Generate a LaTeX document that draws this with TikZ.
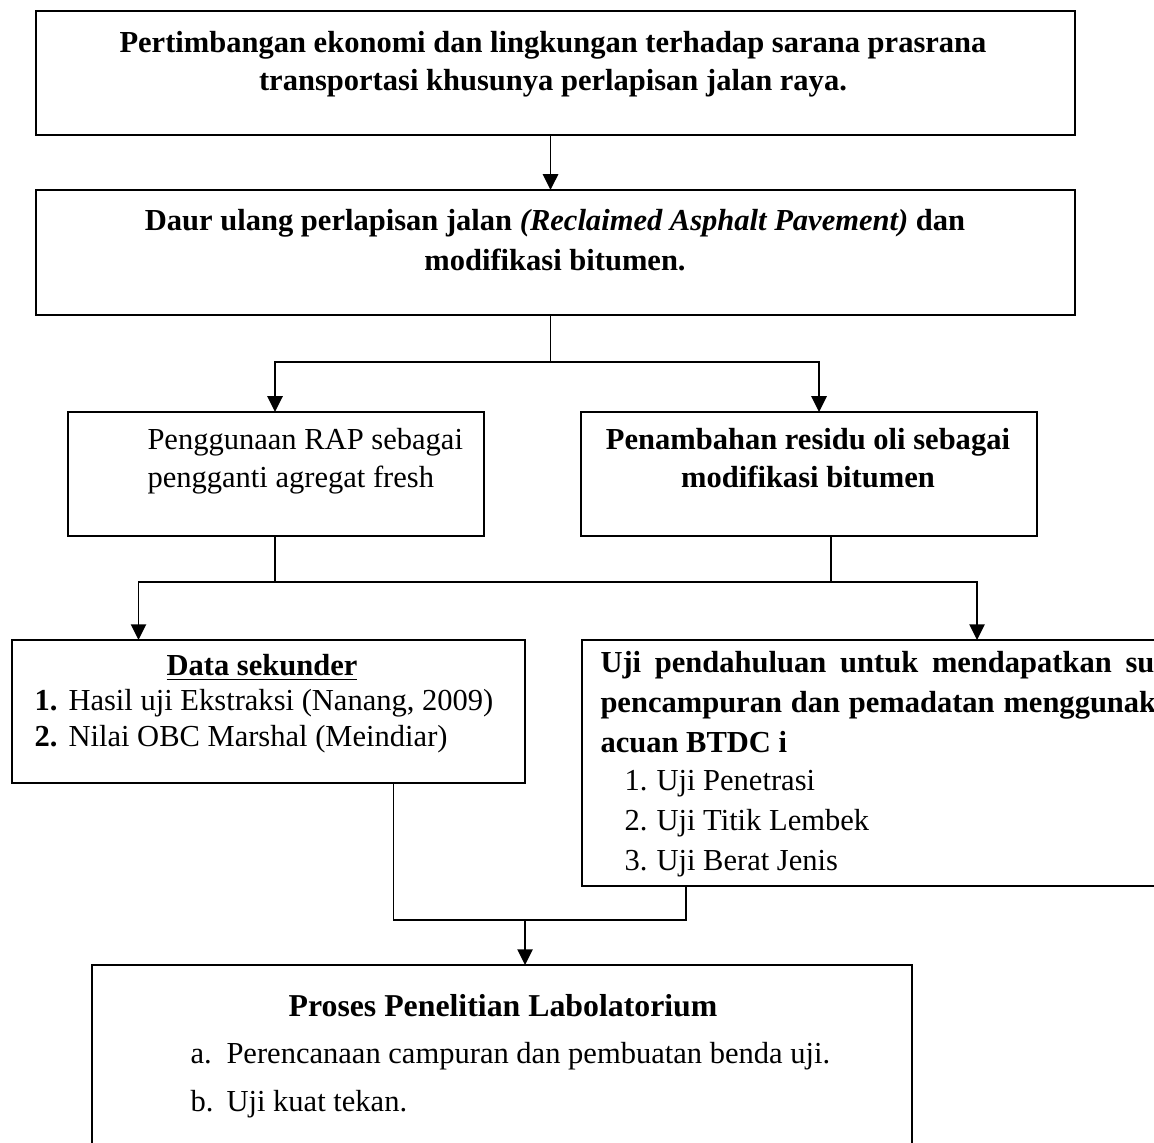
\documentclass[tikz,border=0pt]{standalone}
\usepackage{fontspec}
\setmainfont{Liberation Serif}
\usetikzlibrary{arrows.meta,calc}

\newlength\pu
\setlength\pu{0.393pt}

\tikzset{
  box/.style={draw, line width=0.8pt, anchor=north west, inner sep=0pt, outer sep=0pt},
  conn/.style={line width=0.7pt},
  arr/.style={conn, -{Triangle[length=6.2pt,width=6pt]}},
  txt/.style={inner sep=0pt, anchor=north, align=center, font=\fontsize{12}{14.9}\selectfont},
  lst/.style={inner sep=0pt, anchor=north west, align=left},
}

\begin{document}
\begin{tikzpicture}[x=\pu, y=-\pu]
\useasboundingbox (0,0) rectangle (1154,1142);
\clip (0,0) rectangle (1154,1142);

% kotak
\node[box, minimum width=1039*\pu, minimum height=124*\pu] (eko) at (36,11) {};
\node[box, minimum width=1039*\pu, minimum height=125*\pu] (daur) at (36,190) {};
\node[box, minimum width=416*\pu, minimum height=124*\pu] (rap) at (68,412) {};
\node[box, minimum width=456*\pu, minimum height=124*\pu] (oli) at (581,412) {};
\node[box, minimum width=513*\pu, minimum height=143*\pu] (sek) at (12,640) {};
\node[box, minimum width=620*\pu, minimum height=246*\pu] (uji) at (582,640) {};
\node[box, minimum width=820*\pu, minimum height=220*\pu] (proses) at (92,965) {};

% isi kotak
\node[txt, font=\fontsize{12}{14.9}\selectfont\bfseries] (eko-t) at (553,31)
  {Pertimbangan ekonomi dan lingkungan terhadap sarana prasrana\\
   transportasi khusunya perlapisan jalan raya.};
\node[txt, font=\fontsize{12}{15.7}\selectfont\bfseries] (daur-t) at (555,209)
  {Daur ulang perlapisan jalan \textit{(Reclaimed Asphalt Pavement)} dan\\
   modifikasi bitumen.};
\node[lst, font=\fontsize{12}{14.9}\selectfont] (rap-t) at (147,428) {Penggunaan RAP sebagai\\ pengganti agregat fresh};
\node[txt, font=\fontsize{12}{14.9}\selectfont\bfseries] (oli-t) at (808,428)
  {Penambahan residu oli sebagai\\ modifikasi bitumen};

\node[txt, font=\fontsize{12}{14.9}\selectfont\bfseries] (sek-t) at (262,654) {\underline{Data sekunder}};
\node[lst, font=\fontsize{12}{14}\selectfont] (sek-l) at (34,689)
  {\makebox[34\pu][l]{\textbf{1.}}Hasil uji Ekstraksi (Nanang, 2009)\\
   \makebox[34\pu][l]{\textbf{2.}}Nilai OBC Marshal (Meindiar)};

\node[lst, text width=588*\pu, align=justify, font=\fontsize{12}{15.6}\selectfont\bfseries] (uji-t) at (600,651)
  {Uji pendahuluan untuk mendapatkan suhu\linebreak
   pencampuran dan pemadatan menggunakan\linebreak
   acuan BTDC i};
\node[lst, font=\fontsize{12}{15.6}\selectfont] (uji-l) at (624,770)
  {\makebox[32\pu][l]{1.}Uji Penetrasi\\
   \makebox[32\pu][l]{2.}Uji Titik Lembek\\
   \makebox[32\pu][l]{3.}Uji Berat Jenis};

\node[txt, font=\fontsize{12.5}{15}\selectfont\bfseries] (proses-t) at (503,994) {Proses Penelitian Labolatorium};
\node[lst, font=\fontsize{12}{18.9}\selectfont] (proses-l) at (190,1042)
  {\makebox[36\pu][l]{a.}Perencanaan campuran dan pembuatan benda uji.\\
   \makebox[36\pu][l]{b.}Uji kuat tekan.};

% penghubung
\draw[arr] ($(eko.south)+(-5,0)$) -- ($(daur.north)+(-5,0)$);
\draw[conn] ($(daur.south)+(-5,0)$) -- ++(0,47) coordinate (f1);
\draw[arr] (f1) -| ($(rap.north)+(-1,0)$);
\draw[arr] (f1) -| ($(oli.north)+(10,0)$);
\draw[conn] ($(rap.south)+(-1,0)$) -- ++(0,46) coordinate (f2);
\draw[conn] ($(oli.south)+(22,0)$) -- ($(oli.south)+(22,46)$);
\draw[arr] (f2) -| ($(sek.north)+(-130,0)$);
\draw[arr] (f2) -| ($(uji.north)+(85,0)$);
\draw[conn] ($(sek.south)+(125,0)$) |- ($(uji.south)+(-206,34)$) -- ($(uji.south)+(-206,0)$);
\coordinate (f3) at ($(proses.north)+(23,-45)$);
\draw[arr] (f3) -- ($(proses.north)+(23,0)$);
\end{tikzpicture}
\end{document}
